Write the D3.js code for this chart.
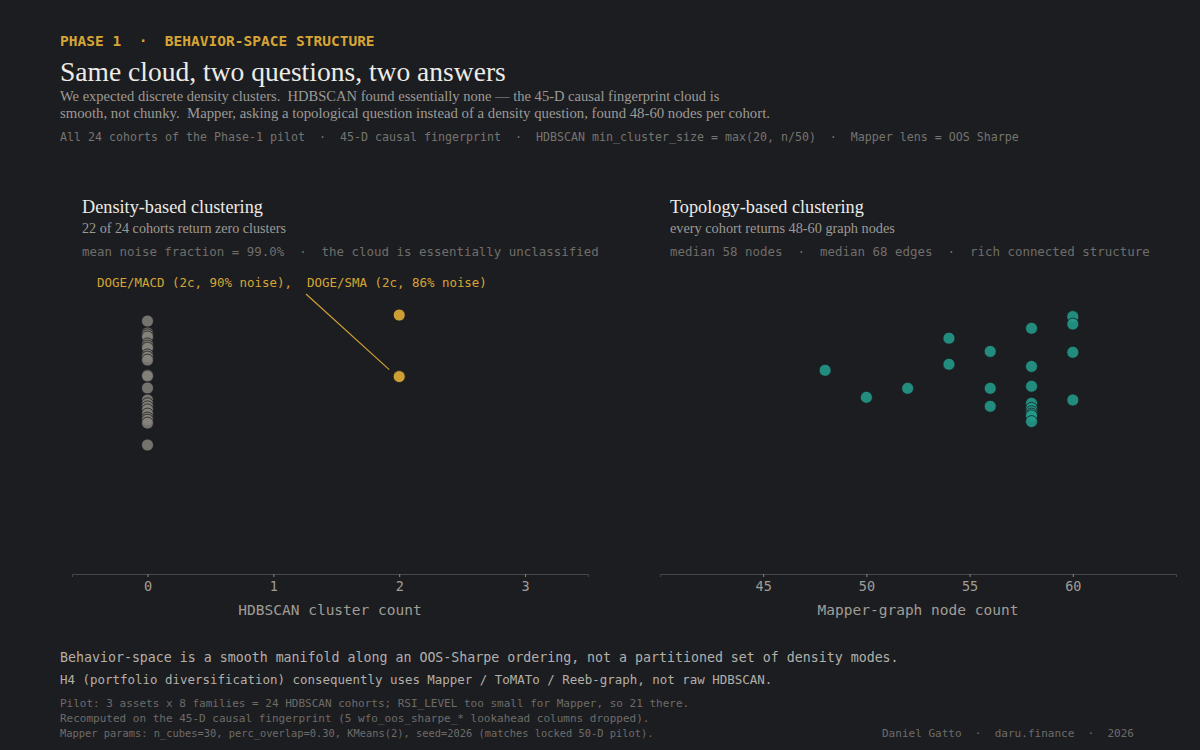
<!DOCTYPE html>
<html>
<head>
<meta charset="utf-8">
<script src="https://cdn.jsdelivr.net/npm/d3@7"></script>
<style>
  html, body { margin: 0; padding: 0; background: #1c1d21; }
  svg { display: block; }
  text { white-space: pre; }
</style>
</head>
<body>
<svg id="chart" width="1200" height="750"></svg>
<script>
// ---------------- DATA ----------------
// Left panel: HDBSCAN cluster count per cohort (24 cohorts), with vertical jitter position
const hdbscanZeroCounts = [0,0,0,0,0,0,0,0,0,0,0,0,0,0,0,0,0,0,0,0,0,0];
const hdbscanZeroJitter = [84.3,80.3,79.7,79.0,76.7,76.0,75.3,73.0,72.3,71.3,66.3,66.0,62.0,58.0,56.7,55.7,54.7,53.3,52.0,51.3,50.3,43.0];
const hdbscanHitLabels = ["DOGE/SMA", "DOGE/MACD"];
const hdbscanHitCounts = [2, 2];
const hdbscanHitJitter = [86.3, 65.8];
const hdbscanHitNoise = [86, 90];

// Right panel: Mapper-graph node count per cohort (21 cohorts)
const mapperNodes  = [48, 50, 52, 54, 54, 56, 56, 56, 58, 58, 58, 58, 58, 58, 58, 58, 58, 60, 60, 60, 60];
const mapperJitter = [67.9, 58.9, 61.9, 78.6, 69.9, 74.2, 61.9, 55.9, 81.9, 69.2, 62.6, 56.9, 55.2, 54.1, 53.3, 52.7, 50.8, 85.8, 83.3, 73.9, 58.0];

const leftTicks = [0, 1, 2, 3];
const rightTicks = [45, 50, 55, 60];

// ---------------- STYLE ----------------
const BG = "#1c1d21";
const GOLD = "#d6a535";
const TEAL = "#23998a";
const GREY_DOT = "#85827b";
const MONO = "'DejaVu Sans Mono', 'Liberation Mono', monospace";
const SERIF = "'Liberation Serif', 'DejaVu Serif', serif";

const svg = d3.select("#chart");
svg.append("rect").attr("width", 1200).attr("height", 750).attr("fill", BG);

function fit(sel, target) {
  const n = sel.node();
  const w = n.getComputedTextLength();
  const fs = parseFloat(sel.attr("font-size"));
  if (w > 0) sel.attr("font-size", (fs * target / w).toFixed(2));
  return sel;
}

function text(x, y, str, opts) {
  const t = svg.append("text")
    .attr("x", x).attr("y", y)
    .attr("xml:space", "preserve")
    .attr("font-family", opts.family)
    .attr("font-size", opts.size)
    .attr("fill", opts.fill)
    .attr("font-weight", opts.weight || "normal")
    .attr("text-anchor", opts.anchor || "start")
    .text(str);
  if (opts.fitW) fit(t, opts.fitW);
  return t;
}

// ---------------- HEADER ----------------
text(60, 46, "PHASE 1  \u00b7  BEHAVIOR-SPACE STRUCTURE", {family: MONO, size: 14.5, fill: GOLD, weight: "bold", fitW: 315});
text(60, 81, "Same cloud, two questions, two answers", {family: SERIF, size: 27, fill: "#ecebe6", fitW: 446});
text(60, 101, "We expected discrete density clusters.  HDBSCAN found essentially none \u2014 the 45-D causal fingerprint cloud is", {family: SERIF, size: 13.5, fill: "#9c9a95", fitW: 660});
text(60, 118, "smooth, not chunky.  Mapper, asking a topological question instead of a density question, found 48-60 nodes per cohort.", {family: SERIF, size: 13.5, fill: "#9c9a95", fitW: 710});
text(60, 141, "All 24 cohorts of the Phase-1 pilot  \u00b7  45-D causal fingerprint  \u00b7  HDBSCAN min_cluster_size = max(20, n/50)  \u00b7  Mapper lens = OOS Sharpe", {family: MONO, size: 11.7, fill: "#75746f", fitW: 959});

// ---------------- SCALES ----------------
const yScale = d3.scaleLinear().domain([0, 100]).range([574, 274]);
const xLeft = d3.scaleLinear().domain([-0.6, 3.5]).range([72, 588]);
const xRight = d3.scaleLinear().domain([40, 65]).range([660, 1176]);
const AXIS_Y = 574;

// ---------------- PANEL TITLES ----------------
text(82, 213, "Density-based clustering", {family: SERIF, size: 19, fill: "#ecebe6", fitW: 181});
text(82, 233, "22 of 24 cohorts return zero clusters", {family: SERIF, size: 13, fill: "#9c9a95", fitW: 204});
text(82, 256, "mean noise fraction = 99.0%  \u00b7  the cloud is essentially unclassified", {family: MONO, size: 12.5, fill: "#6f6e6a", fitW: 517});

text(670, 213, "Topology-based clustering", {family: SERIF, size: 19, fill: "#ecebe6", fitW: 194});
text(670, 233, "every cohort returns 48-60 graph nodes", {family: SERIF, size: 13, fill: "#9c9a95", fitW: 225});
text(670, 256, "median 58 nodes  \u00b7  median 68 edges  \u00b7  rich connected structure", {family: MONO, size: 12.5, fill: "#6f6e6a", fitW: 480});

// ---------------- AXES ----------------
function drawAxis(scale, ticks, label) {
  const g = svg.append("g").attr("transform", `translate(0,${AXIS_Y})`);
  const ax = d3.axisBottom(scale).tickValues(ticks).tickSize(3).tickPadding(4).tickFormat(d3.format("d"));
  g.call(ax);
  g.select(".domain").attr("stroke", "#45474e").attr("stroke-width", 1);
  g.selectAll(".tick line").attr("stroke", "#8a8780");
  g.selectAll(".tick text").attr("fill", "#a09d96").attr("font-family", MONO).attr("font-size", 13.5);
  const r = scale.range();
  text((r[0] + r[1]) / 2, 615, label, {family: MONO, size: 14.5, fill: "#a09d96", anchor: "middle"});
}
drawAxis(xLeft, leftTicks, "HDBSCAN cluster count");
drawAxis(xRight, rightTicks, "Mapper-graph node count");

// ---------------- LEFT MARKS ----------------
const R = 6;
svg.append("g").selectAll("circle")
  .data(hdbscanZeroCounts.map((c, i) => ({c, j: hdbscanZeroJitter[i]})))
  .join("circle")
  .attr("cx", d => xLeft(d.c))
  .attr("cy", d => yScale(d.j))
  .attr("r", R)
  .attr("fill", GREY_DOT)
  .attr("fill-opacity", 0.85)
  .attr("stroke", BG)
  .attr("stroke-width", 0.8);

svg.append("g").selectAll("circle")
  .data(hdbscanHitCounts.map((c, i) => ({c, j: hdbscanHitJitter[i]})))
  .join("circle")
  .attr("cx", d => xLeft(d.c))
  .attr("cy", d => yScale(d.j))
  .attr("r", R)
  .attr("fill", GOLD)
  .attr("fill-opacity", 0.95)
  .attr("stroke", BG)
  .attr("stroke-width", 0.8);

// annotation
const annText = `${hdbscanHitLabels[1]} (2c, ${hdbscanHitNoise[1]}% noise),  ${hdbscanHitLabels[0]} (2c, ${hdbscanHitNoise[0]}% noise)`;
text(97, 287, annText, {family: MONO, size: 12.5, fill: GOLD, fitW: 390});
const lowHit = {x: xLeft(hdbscanHitCounts[1]), y: yScale(hdbscanHitJitter[1])};
svg.append("line")
  .attr("x1", 306).attr("y1", 294)
  .attr("x2", lowHit.x - 10).attr("y2", lowHit.y - 7)
  .attr("stroke", GOLD).attr("stroke-width", 1.1);

// ---------------- RIGHT MARKS ----------------
svg.append("g").selectAll("circle")
  .data(mapperNodes.map((n, i) => ({n, j: mapperJitter[i]})))
  .join("circle")
  .attr("cx", d => xRight(d.n))
  .attr("cy", d => yScale(d.j))
  .attr("r", R)
  .attr("fill", TEAL)
  .attr("fill-opacity", 0.9)
  .attr("stroke", BG)
  .attr("stroke-width", 0.8);

// ---------------- FOOTER ----------------
text(60, 662, "Behavior-space is a smooth manifold along an OOS-Sharpe ordering, not a partitioned set of density modes.", {family: MONO, size: 13.4, fill: "#b3b0a9", fitW: 839});
text(60, 684, "H4 (portfolio diversification) consequently uses Mapper / ToMATo / Reeb-graph, not raw HDBSCAN.", {family: MONO, size: 13.4, fill: "#b3b0a9", fitW: 712});
text(60, 707, "Pilot: 3 assets x 8 families = 24 HDBSCAN cohorts; RSI_LEVEL too small for Mapper, so 21 there.", {family: MONO, size: 10.9, fill: "#6d6c68", fitW: 629});
text(60, 722, "Recomputed on the 45-D causal fingerprint (5 wfo_oos_sharpe_* lookahead columns dropped).", {family: MONO, size: 10.9, fill: "#6d6c68", fitW: 589});
text(60, 737, "Mapper params: n_cubes=30, perc_overlap=0.30, KMeans(2), seed=2026 (matches locked 50-D pilot).", {family: MONO, size: 10.9, fill: "#6d6c68", fitW: 593});
text(1134, 737, "Daniel Gatto  \u00b7  daru.finance  \u00b7  2026", {family: MONO, size: 10.9, fill: "#6d6c68", anchor: "end", fitW: 252});
</script>
</body>
</html>
